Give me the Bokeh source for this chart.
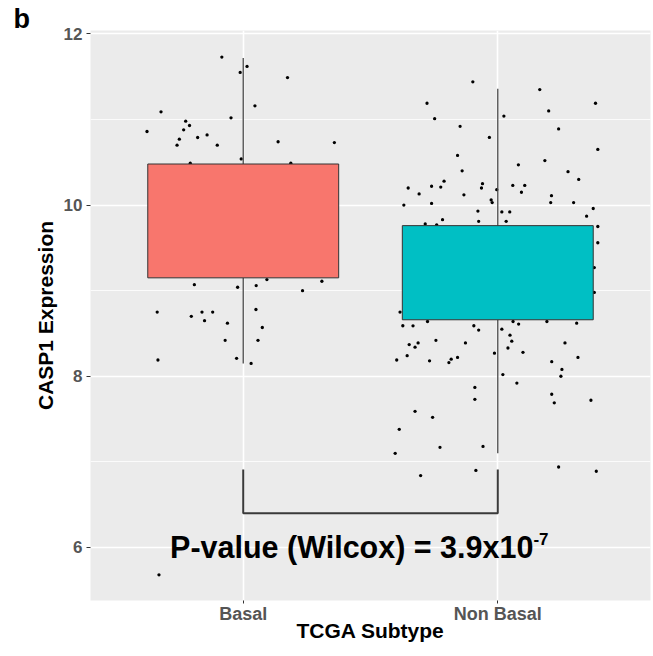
from bokeh.plotting import figure
from bokeh.models import Range1d, FixedTicker, Label, ColumnDataSource, Title
from bokeh.embed import file_html
from bokeh.resources import INLINE

# ---------------- data ----------------
categories = ["Basal", "Non Basal"]
positions = [1, 2]
box_colors = ["#F8766D", "#00BFC4"]
q1 = [9.15, 8.66]
median = [9.76, 9.15]
q3 = [10.48, 9.76]
whisker_low = [8.15, 7.10]
whisker_high = [11.72, 11.36]

basal_jitter = [-0.084, 0.015, -0.012, 0.174, 0.046, -0.323, -0.048, -0.226, -0.211, -0.234,
                -0.378, -0.142, -0.179, -0.251, 0.137, 0.358, -0.260, -0.102, -0.008, -0.208,
                0.187, -0.192, -0.022, 0.051, 0.093, 0.233, 0.309, -0.338, -0.204, -0.162,
                -0.120, -0.152, -0.062, 0.050, 0.075, -0.071, 0.058, -0.335, -0.026, 0.031,
                -0.331]
basal_values = [11.73, 11.62, 11.55, 11.49, 11.16, 11.09, 11.02, 10.98, 10.93, 10.88,
                10.86, 10.82, 10.79, 10.77, 10.74, 10.73, 10.70, 10.70, 10.54, 10.49,
                10.49, 9.07, 9.04, 9.06, 9.13, 9.00, 9.11, 8.75, 8.70, 8.75,
                8.75, 8.65, 8.62, 8.78, 8.57, 8.42, 8.42, 8.19, 8.21, 8.15,
                5.68]

nonbasal_jitter = [-0.098, 0.165, -0.278, 0.384, 0.200, -0.248, 0.024, -0.148, 0.239, -0.033,
                   0.393, -0.158, 0.185, 0.081, -0.140, 0.276, 0.318, -0.211, -0.060, -0.352,
                   -0.260, -0.224, -0.064, 0.059, 0.106, -0.004, -0.309, -0.133, 0.093, 0.211,
                   -0.026, -0.022, -0.369, -0.260, 0.208, 0.298, 0.375, -0.078, 0.016, 0.047,
                   0.349, -0.217, -0.075, 0.033, -0.285, -0.240, 0.393, 0.393, 0.379, 0.379,
                   -0.384, -0.373, -0.333, -0.276, -0.094, -0.075, 0.016, 0.060, 0.082, 0.193,
                   0.310, 0.048, -0.243, 0.055, -0.348, -0.325, -0.313, -0.127, 0.264, 0.040,
                   -0.397, -0.356, -0.268, -0.192, -0.183, -0.158, -0.013, 0.099, 0.212, 0.315,
                   0.252, 0.248, 0.020, 0.075, -0.090, -0.090, 0.212, 0.222, 0.366, -0.325,
                   -0.256, -0.387, -0.227, -0.058, -0.403, -0.086, -0.303, 0.239, 0.387]
nonbasal_values = [11.44, 11.35, 11.19, 11.19, 11.10, 11.01, 11.04, 10.92, 10.89, 10.79,
                   10.65, 10.58, 10.52, 10.47, 10.40, 10.39, 10.30, 10.28, 10.25, 10.20,
                   10.22, 10.21, 10.20, 10.23, 10.23, 10.18, 10.13, 10.12, 10.15, 10.11,
                   10.06, 10.03, 10.00, 10.02, 10.03, 10.03, 9.96, 9.93, 9.92, 9.92,
                   9.87, 9.83, 9.81, 9.81, 9.78, 9.77, 9.75, 9.56, 9.27, 8.98,
                   8.75, 8.59, 8.59, 8.64, 8.59, 8.54, 8.55, 8.64, 8.61, 8.64,
                   8.62, 8.48, 8.42, 8.41, 8.37, 8.34, 8.39, 8.39, 8.39, 8.33,
                   8.19, 8.24, 8.18, 8.16, 8.20, 8.22, 8.27, 8.28, 8.17, 8.22,
                   8.08, 8.00, 8.02, 7.92, 7.87, 7.73, 7.79, 7.69, 7.72, 7.59,
                   7.52, 7.38, 7.17, 7.18, 7.10, 6.90, 6.84, 6.94, 6.89]

y_ticks = [6, 8, 10, 12]
y_minor_ticks = [7, 9, 11]
bracket_top = 6.91
bracket_bottom = 6.40
p_text = "P-value (Wilcox) = 3.9x10"
p_exponent = "-7"
x_title = "TCGA Subtype"
y_title = "CASP1 Expression"
panel_tag = "b"

FONT = "Liberation Sans"

# ---------------- figure ----------------
p = figure(width=653, height=656, output_backend="svg", toolbar_location=None,
           x_range=Range1d(0.4, 2.6), y_range=Range1d(5.38, 12.04),
           min_border_left=90, min_border_right=3, min_border_top=30, min_border_bottom=56,
           background_fill_color="#EBEBEB", border_fill_color="white")
p.outline_line_color = None

# panel tag as a left-shifted title
p.title = Title(text=panel_tag, align="left", offset=-77, standoff=-6,
                text_font=FONT, text_font_style="bold", text_font_size="27px",
                text_color="black")

# grids
p.xgrid.ticker = FixedTicker(ticks=positions)
p.ygrid.ticker = FixedTicker(ticks=y_ticks, minor_ticks=y_minor_ticks)
p.xgrid.grid_line_color = "white"
p.ygrid.grid_line_color = "white"
p.xgrid.grid_line_width = 1.6
p.ygrid.grid_line_width = 1.6
p.ygrid.minor_grid_line_color = "white"
p.ygrid.minor_grid_line_width = 0.8

# axes
p.xaxis.ticker = FixedTicker(ticks=positions)
p.xaxis.major_label_overrides = {pos: cat for pos, cat in zip(positions, categories)}
p.yaxis.ticker = FixedTicker(ticks=y_ticks)
for ax in (p.xaxis[0], p.yaxis[0]):
    ax.axis_line_color = None
    ax.major_tick_line_color = "#333333"
    ax.major_tick_in = 0
    ax.major_tick_out = 4
    ax.minor_tick_line_color = None
    ax.major_label_text_font = FONT
    ax.major_label_text_font_style = "bold"
    ax.major_label_text_color = "#555555"
    ax.axis_label_text_font = FONT
    ax.axis_label_text_font_style = "bold"
    ax.axis_label_text_color = "black"
    ax.axis_label_text_font_size = "21px"
p.xaxis.major_tick_out = 3
p.xaxis.major_label_text_font_size = "18px"
p.yaxis.major_label_text_font_size = "17px"
p.xaxis.axis_label = x_title
p.yaxis.axis_label = y_title
p.xaxis.major_label_standoff = 0
p.xaxis.axis_label_standoff = -8
p.yaxis.major_label_standoff = 4
p.yaxis.axis_label_standoff = 4

# jittered points (drawn below the boxes)
pts_x = [positions[0] + j for j in basal_jitter] + [positions[1] + j for j in nonbasal_jitter]
pts_y = basal_values + nonbasal_values
p.scatter(x=pts_x, y=pts_y, size=3.3, fill_color="black", line_color=None)

# whiskers
box_src = ColumnDataSource(dict(x=positions, q1=q1, q3=q3, med=median, lo=whisker_low,
                                hi=whisker_high, color=box_colors))
p.segment(x0="x", y0="q3", x1="x", y1="hi", source=box_src, line_color="#4a4a4a", line_width=1.3)
p.segment(x0="x", y0="q1", x1="x", y1="lo", source=box_src, line_color="#4a4a4a", line_width=1.3)
# boxes
p.vbar(x="x", width=0.75, bottom="q1", top="q3", source=box_src, fill_color="color",
       line_color="#333333", line_width=1)
# medians
p.rect(x="x", y="med", width=0.75, height=0, source=box_src, line_color="#222222", line_width=2.6,
       fill_color=None)

# significance bracket
p.line(x=[positions[0], positions[0], positions[1], positions[1]],
       y=[bracket_top, bracket_bottom, bracket_bottom, bracket_top],
       line_color="#3a3a3a", line_width=2)

p.add_layout(Label(x=2.14, y=6.0, text=p_text, text_align="right", text_baseline="alphabetic",
                   text_font=FONT, text_font_style="bold", text_font_size="30.5px",
                   text_color="black"))
p.add_layout(Label(x=2.14, y=6.10, text=p_exponent, text_align="left", text_baseline="alphabetic",
                   text_font=FONT, text_font_style="bold", text_font_size="17px",
                   text_color="black"))

open("out.html", "w").write(file_html(p, INLINE))
